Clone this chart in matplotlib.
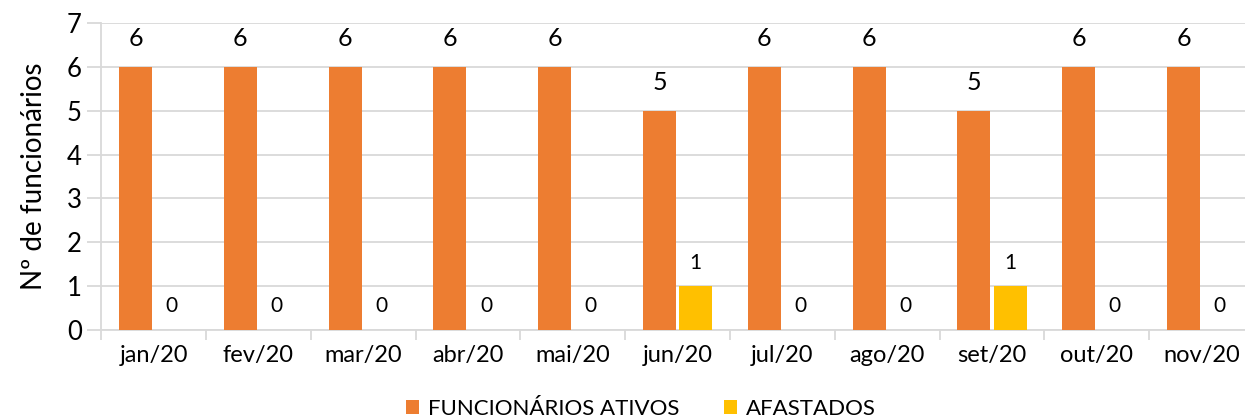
import matplotlib.pyplot as plt
import numpy as np

plt.rcParams['font.family'] = ['Lato', 'DejaVu Sans']

meses = ['jan/20', 'fev/20', 'mar/20', 'abr/20', 'mai/20', 'jun/20',
         'jul/20', 'ago/20', 'set/20', 'out/20', 'nov/20']
ativos = [6, 6, 6, 6, 6, 5, 6, 6, 5, 6, 6]
afastados = [0, 0, 0, 0, 0, 1, 0, 0, 1, 0, 0]

laranja = '#ED7D31'
amarelo = '#FFC000'
grade = '#D9D9D9'

fig = plt.figure(figsize=(12.45, 4.18), dpi=100)
ax = fig.add_axes([101.2 / 1245, 88 / 418, 1152.8 / 1245, 307 / 418])

x = np.arange(len(meses))
w = 0.315
off = 0.172
b1 = ax.bar(x - off, ativos, w, color=laranja, label='FUNCIONÁRIOS ATIVOS', zorder=3)
b2 = ax.bar(x + off, afastados, w, color=amarelo, label='AFASTADOS', zorder=3)

# rótulos: os da série laranja são maiores
for b, v in zip(b1, ativos):
    ax.annotate(str(v), (b.get_x() + b.get_width() / 2, v),
                xytext=(0, 20.5), textcoords='offset points',
                ha='center', va='center', fontsize=18, color='#000000')
for b, v in zip(b2, afastados):
    ax.annotate(str(v), (b.get_x() + b.get_width() / 2, v),
                xytext=(0, 17), textcoords='offset points',
                ha='center', va='center', fontsize=15, color='#000000')

ax.set_xlim(-0.5, len(meses) - 0.5)
ax.set_ylim(0, 7)
ax.set_yticks(range(8))
ax.yaxis.grid(True, color=grade, linewidth=1.3, zorder=0)
ax.set_axisbelow(True)

for s in ['top', 'right']:
    ax.spines[s].set_visible(False)
ax.spines['left'].set_color(grade)
ax.spines['bottom'].set_color(grade)
ax.spines['left'].set_linewidth(1.3)
ax.spines['bottom'].set_linewidth(1.3)

ax.set_xticks(x)
ax.set_xticklabels(meses, fontsize=17)
ax.tick_params(axis='x', length=0, pad=11)
ax.set_xticks(np.arange(len(meses) + 1) - 0.5, minor=True)
ax.tick_params(axis='x', which='minor', length=7, color=grade, width=1.3)
ax.tick_params(axis='y', length=10, color=grade, width=1.3, labelsize=18.5, pad=4)

ax.set_ylabel('Nº de funcionários', fontsize=20, labelpad=14)

fig.legend(loc='lower center', bbox_to_anchor=(0.515, -0.05), ncol=2, frameon=False,
           fontsize=16, handlelength=0.6, handleheight=0.6, columnspacing=2.0,
           handletextpad=0.4)

fig.savefig('out.png', dpi=100)
